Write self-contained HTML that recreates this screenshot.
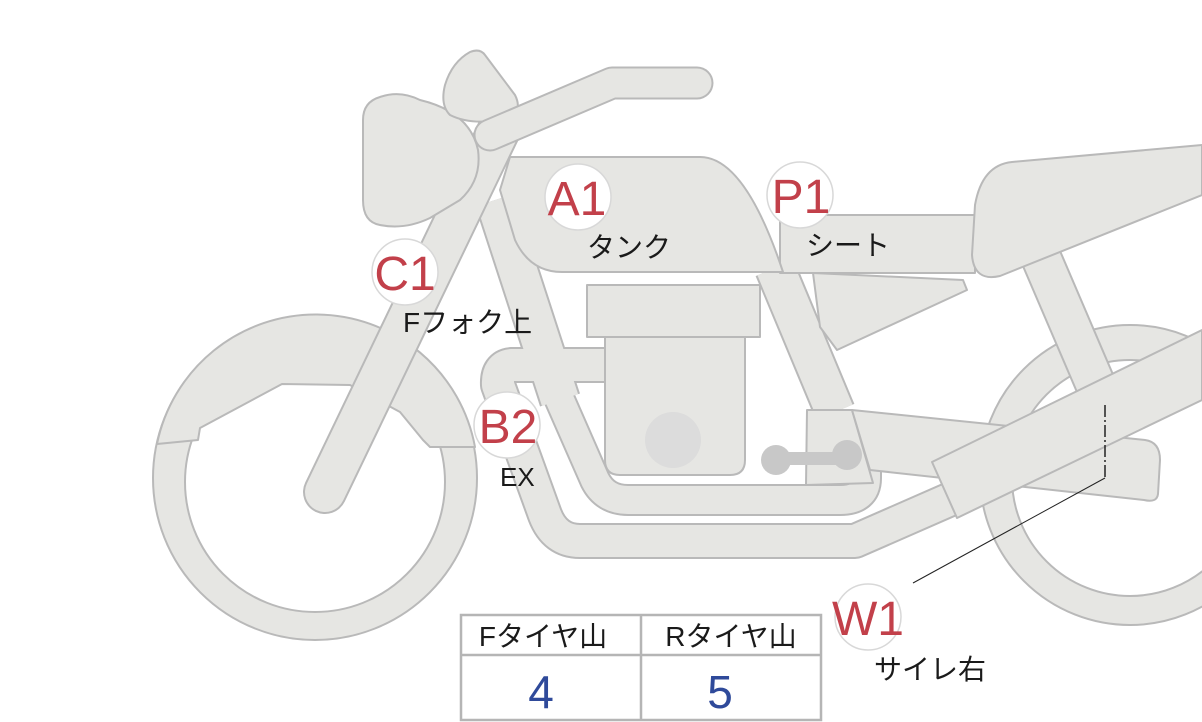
<!DOCTYPE html>
<html><head><meta charset="utf-8"><style>
html,body{margin:0;padding:0;background:#fff;}
svg{display:block;}
text{font-family:"Liberation Sans","Noto Sans CJK JP",sans-serif;}
</style></head><body>
<svg width="1202" height="722" viewBox="0 0 1202 722" xmlns="http://www.w3.org/2000/svg">
<g fill="#e6e6e3" stroke="#b9b9b9" stroke-width="2" stroke-linejoin="round">
  <path fill-rule="evenodd" d="M153,478 a162,162 0 1,0 324,0 a162,162 0 1,0 -324,0 Z M185,482 a130,130 0 1,0 260,0 a130,130 0 1,0 -260,0 Z"/>
  <path d="M157,444 A162,162 0 0,1 475,447 L430,447 L423,440 L400,412 L350,385 L282,384 L200,428 L198,440 Z"/>
  <path fill-rule="evenodd" d="M980,475 a150,150 0 1,0 300,0 a150,150 0 1,0 -300,0 Z M1012,478 a118,118 0 1,0 236,0 a118,118 0 1,0 -236,0 Z"/>
</g>
<g fill="none" stroke-linecap="butt" stroke-linejoin="round">
  <g stroke="#b9b9b9">
    <path d="M495,200 L560,400" stroke-width="42"/>
    <path d="M775,268 L835,412" stroke-width="42"/>
    <path d="M1040,255 L1100,395" stroke-width="42"/>
    <path d="M605,365 L512,365 Q497,366 498,385 L545,515 Q555,541 580,541 L855,541 L960,495" stroke-width="36"/>
    <path d="M552,382 L595,480 Q605,500 628,500 L840,500 Q866,500 866,478 L866,468" stroke-width="32"/>
  </g>
  <g stroke="#e6e6e3">
    <path d="M495,200 L560,400" stroke-width="38"/>
    <path d="M775,268 L835,412" stroke-width="38"/>
    <path d="M1040,255 L1100,395" stroke-width="38"/>
    <path d="M605,365 L512,365 Q497,366 498,385 L545,515 Q555,541 580,541 L855,541 L960,495" stroke-width="32"/>
    <path d="M552,382 L595,480 Q605,500 628,500 L840,500 Q866,500 866,478 L866,468" stroke-width="28"/>
  </g>
</g>
<g fill="#e6e6e3" stroke="#b9b9b9" stroke-width="2" stroke-linejoin="round">
  <path d="M605,335 L745,335 L745,460 Q745,475 730,475 L620,475 Q605,475 605,460 Z"/>
  <rect x="587" y="285" width="173" height="52"/>
  <path d="M807,410 L852,410 L873,483 L806,485 Z"/>
  <path d="M852,410 L1145,440 Q1160,442 1160,460 L1158,494 Q1157,503 1144,500 L870,470 Z"/>
  <path d="M932,462 L1202,330 L1202,400 L957,518 Z"/>
  <path d="M813,273 L963,280 L967,290 L837,350 L820,327 Z"/>
  <rect x="780" y="215" width="195" height="58"/>
  <path d="M975,205 Q982,165 1012,162 L1202,145 L1202,195 L1000,276 Q974,282 972,255 Z"/>
  <path d="M510,157 L700,157 Q745,157 783,272 L562,272 Q530,272 515,240 L500,190 Z"/>
</g>
<g fill="#c8c8c8">
  <rect x="775" y="452" width="72" height="13"/>
  <circle cx="776" cy="460" r="15"/>
  <circle cx="847" cy="455" r="15"/>
</g>
<circle cx="673" cy="440" r="28" fill="#dcdcdc"/>
<g fill="none" stroke-linecap="round">
  <path d="M325,492 L500,128" stroke="#b9b9b9" stroke-width="44"/>
  <path d="M325,492 L500,128" stroke="#e6e6e3" stroke-width="40"/>
</g>
<g fill="#e6e6e3" stroke="#b9b9b9" stroke-width="2" stroke-linejoin="round">
  <path d="M380,97 Q400,90 420,100 Q470,112 478,150 Q482,180 460,200 L430,218 Q405,230 380,225 Q363,222 363,200 L363,120 Q363,102 380,97 Z"/>
  <path d="M470,52 Q480,48 485,55 L515,95 Q525,115 500,120 Q470,125 450,115 Q440,105 445,85 Q452,62 470,52 Z"/>
</g>
<g fill="none" stroke-linecap="round" stroke-linejoin="round">
  <path d="M490,135 L612,83 L697,83" stroke="#b9b9b9" stroke-width="33"/>
  <path d="M490,135 L612,83 L697,83" stroke="#e6e6e3" stroke-width="29"/>
</g>
<path d="M1105,405 L1105,478" stroke="#222" stroke-width="1.5" stroke-dasharray="12,3,2,3" fill="none"/>
<path d="M1105,478 L913,583" stroke="#222" stroke-width="1" fill="none"/>
<g fill="#fff" stroke="#d8d8d8" stroke-width="1.5">
  <circle cx="578" cy="197" r="33"/>
  <circle cx="800" cy="195" r="33"/>
  <circle cx="405" cy="272" r="33"/>
  <circle cx="507" cy="425" r="33"/>
  <circle cx="868" cy="617" r="33"/>
</g>
<g fill="#c2404a" font-size="48" text-anchor="middle">
  <text x="577" y="215">A1</text>
  <text x="801" y="213">P1</text>
  <text x="405" y="290">C1</text>
  <text x="508" y="443">B2</text>
  <text x="868" y="635">W1</text>
</g>
<g fill="#1a1a1a" font-size="28">
  <text x="587" y="257">タンク</text>
  <text x="806" y="255">シート</text>
  <text x="403" y="332">Fフォク上</text>
  <text x="500" y="486" font-size="26">EX</text>
  <text x="874" y="679">サイレ右</text>
</g>
<g fill="#fff" stroke="#b5b5b5" stroke-width="2.5">
  <rect x="461" y="615" width="360" height="105"/>
  <line x1="461" y1="655" x2="821" y2="655"/>
  <line x1="641" y1="615" x2="641" y2="720"/>
</g>
<g font-size="28" fill="#1a1a1a" text-anchor="middle">
  <text x="543" y="646">Fタイヤ山</text>
  <text x="731" y="646">Rタイヤ山</text>
</g>
<g font-size="46" fill="#2f4a9a" text-anchor="middle">
  <text x="541" y="708">4</text>
  <text x="720" y="708">5</text>
</g>
</svg>
</body></html>
